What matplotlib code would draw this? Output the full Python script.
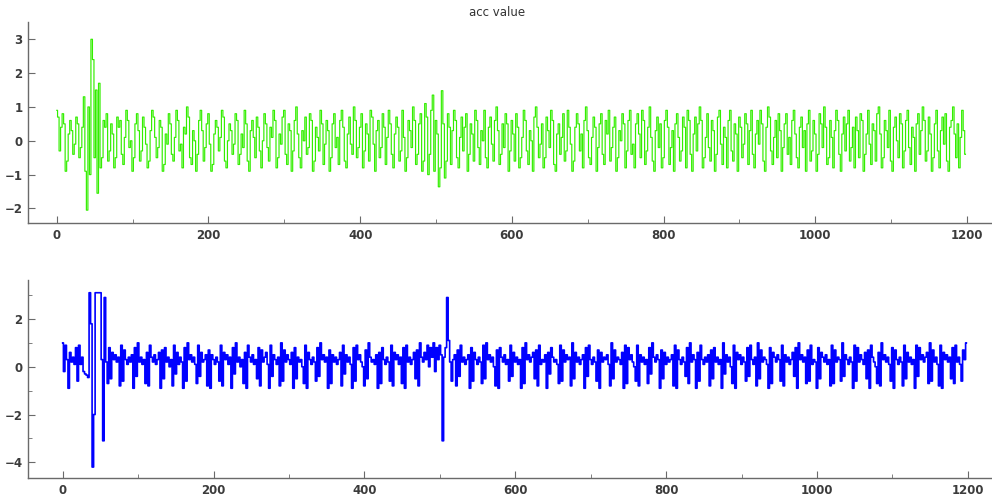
import matplotlib
matplotlib.use('Agg')
import matplotlib.pyplot as plt
from matplotlib.ticker import MultipleLocator

# acc samples, one value every 2 ticks (x = 0, 2, ..., 1198)
acc_top = [
    0.9, 0.7, -0.3, 0.4, 0.8, 0.5, -0.9, -0.6, 0.2, 0.6, 0.3, -0.4, -0.1, 0.7, 0.5, -0.5, -0.2, 0.4, 1.3, -0.9,
    -2.05, 1.0, -1.0, 3.0, 2.4, -0.5, 1.5, -1.55, 1.7, -0.8, -0.5, 0.6, 0.4, 0.8, -0.6, -0.3, 0.5, 0.2, -0.8, -0.5,
    0.7, 0.4, 0.6, -0.4, -0.7, 0.1, 0.9, 0.6, -0.2, 0.0, -0.9, -0.5, 0.5, 0.8, 0.3, -0.6, -0.3, 0.7, 0.4, -0.1,
    -0.8, -0.6, 0.3, 0.9, 0.7, 0.1, -0.5, -0.2, 0.6, 0.4, -0.9, -0.7, 0.2, -0.1, 0.8, 0.5, -0.4, -0.6, 0.1, 0.9,
    0.6, -0.3, -0.1, -0.8, 0.4, 0.2, 1.0, 0.7, -0.5, -0.7, 0.3, 0.0, -0.9, -0.4, 0.6, 0.9, 0.3, -0.6, -0.2, 0.5,
    0.8, -0.1, -0.9, -0.7, 0.2, 0.6, 0.4, -0.3, 0.1, 0.9, 0.7, -0.6, -0.8, 0.0, 0.5, 0.3, -0.4, -0.1, 0.8, 0.6,
    -0.7, -0.4, 0.2, -0.2, 0.9, 0.5, -0.6, -0.9, 0.3, 0.6, 0.1, -0.5, 0.7, 0.4, -0.3, -0.8, 0.0, 0.8, 0.5, -0.2,
    -0.6, 0.4, 0.1, 0.9, 0.6, -0.8, -0.5, 0.2, -0.1, 0.7, 0.9, -0.4, -0.7, 0.5, 0.3, -0.9, -0.3, 0.6, 1.0, 0.2,
    -0.5, -0.8, 0.3, 0.0, 0.7, -0.4, -0.2, 0.8, 0.6, -0.9, -0.6, 0.4, 0.1, -0.3, 0.9, 0.5, -0.7, -0.1, 0.6, 0.3,
    -0.9, -0.5, 0.5, 0.8, -0.2, 0.1, -0.7, 0.6, 0.9, 0.4, -0.6, -0.8, 0.2, 0.7, -0.1, -0.4, 1.0, 0.6, -0.5, -0.2,
    0.4, 0.8, -0.8, -0.3, 0.5, 0.2, -0.6, 0.9, 0.7, -0.1, -0.9, 0.3, 0.6, -0.5, -0.2, 0.8, 0.4, -0.7, 0.1, 0.9,
    0.5, -0.4, -0.8, 0.2, 0.7, 0.4, -0.6, -0.3, 0.9, 0.1, -0.9, -0.5, 0.6, 0.3, -0.2, 1.0, 0.6, -0.7, -0.4, 0.5,
    0.8, -0.9, -0.6, 1.1, 0.7, -1.0, -0.4, 0.9, 1.35, -0.9, 0.6, 0.2, -1.36, -0.8, 1.48, 0.5, -1.1, -0.6, 0.8, 0.4,
    -0.7, 0.3, 0.9, 0.6, -0.5, -0.8, 0.1, 0.7, -0.3, 0.4, 0.8, -0.9, -0.4, 0.5, 0.2, -0.6, 0.9, 0.6, -0.2, -0.7,
    0.3, 0.0, 0.9, -0.5, -0.8, 0.4, 0.7, -0.1, -0.6, 0.6, 1.0, 0.3, -0.7, -0.4, 0.5, -0.2, 0.8, 0.5, -0.9, -0.3,
    0.6, 0.2, -0.6, 0.8, 0.4, -0.8, -0.5, 0.1, 0.9, 0.6, -0.3, -0.7, 0.3, 0.0, -0.9, 0.7, 1.0, 0.4, -0.5, -0.1,
    0.5, -0.8, -0.5, 0.7, 0.3, -0.2, 0.9, 0.6, -0.7, -0.9, 0.2, 0.5, -0.4, 0.1, 0.8, -0.6, -0.3, 0.9, 0.4, -0.1,
    -0.9, -0.6, 0.4, 0.8, 0.5, -0.3, 0.2, -0.8, 0.6, 1.0, 0.3, -0.5, -0.7, 0.1, 0.7, 0.4, -0.9, -0.2, 0.5, 0.8,
    -0.4, -0.7, 0.6, 0.2, 0.9, -0.6, -0.2, 0.4, 0.7, -0.9, -0.5, 0.3, 0.0, 0.8, 0.5, -0.8, -0.3, 0.6, 0.9, -0.4,
    -0.1, -0.8, 0.5, 0.8, 0.2, -0.5, 0.9, 0.6, -0.7, -0.3, 0.4, 1.0, 0.1, -0.6, -0.9, 0.3, 0.7, -0.2, 0.5, -0.8,
    -0.5, 0.6, 0.9, 0.4, -0.7, -0.2, 0.3, -0.9, 0.5, 0.8, 0.1, -0.6, -0.3, 0.7, 0.4, -0.8, 0.9, 0.6, -0.4, -0.9,
    0.2, 0.7, -0.3, 0.5, 1.0, 0.6, -0.8, -0.5, 0.1, 0.8, -0.2, -0.6, 0.6, 0.3, -0.9, -0.4, 0.7, 0.9, -0.1, -0.7,
    0.4, 0.1, -0.8, 0.6, 0.9, -0.3, -0.6, 0.5, 0.2, -0.9, 0.7, 0.4, -0.5, -0.1, 0.8, 0.5, -0.7, 0.3, 0.9, -0.4,
    -0.8, 0.2, 0.6, -0.1, 0.9, 0.5, -0.6, -0.9, 0.4, 1.0, 0.7, -0.3, -0.7, 0.1, 0.6, -0.5, 0.8, 0.3, -0.9, -0.2,
    0.5, 0.8, -0.4, 0.1, -0.7, 0.6, 0.9, 0.2, -0.5, -0.8, 0.4, 0.7, -0.2, 0.3, -0.9, 0.5, 0.9, -0.6, -0.3, 0.6,
    0.2, -0.9, -0.4, 0.8, 0.5, -0.2, 1.0, 0.4, -0.7, -0.5, 0.6, 0.1, -0.8, 0.3, 0.9, 0.6, -0.4, -0.9, 0.2, 0.7,
    -0.3, 0.5, 0.9, -0.6, -0.2, 0.4, -0.8, 0.7, 0.3, -0.5, 0.8, 0.6, -0.9, -0.4, 0.2, 0.9, -0.1, -0.7, 0.5, 0.3,
    -0.6, 0.8, 1.0, 0.2, -0.8, -0.5, 0.6, 0.3, -0.2, 0.9, -0.6, -0.9, 0.4, 0.7, 0.0, -0.5, 0.8, 0.5, -0.8, -0.3,
    0.6, 0.9, -0.2, -0.7, 0.4, 0.1, -0.9, 0.5, 0.8, -0.4, 0.3, 1.0, 0.6, -0.6, -0.3, 0.7, 0.2, -0.9, -0.5, 0.5,
    0.9, -0.3, -0.8, 0.3, 0.7, -0.1, 0.8, -0.6, -0.9, 0.4, 0.6, 1.0, 0.2, -0.5, 0.5, -0.8, 0.1, 0.9, 0.3, -0.4,
]

acc_bottom = [
    1.0, -0.2, 0.9, 0.3, -0.9, 0.6, 0.2, 0.4, 0.1, 0.8, -0.6, 0.9, 0.1, 0.4, -0.2, -0.3, -0.35, -0.45, 3.1, 1.8,
    -4.2, -2.0, 3.1, 3.1, 3.1, 3.1, 0.3, -3.1, 2.9, 0.2, -0.7, 0.8, -0.5, 0.6, 0.3, 0.5, 0.2, 0.4, -0.8, 0.9,
    -0.6, 0.7, 0.3, 0.1, 0.4, 0.2, 0.5, -0.9, 0.8, -0.4, 1.0, 0.2, 0.4, 0.1, 0.3, -0.7, 0.6, -0.8, 0.9, 0.4,
    0.2, 0.5, 0.1, 0.3, 0.6, -0.9, 0.7, -0.5, 0.8, 0.2, 0.4, 0.0, 0.3, -0.8, 0.9, -0.3, 0.6, 0.1, 0.4, 0.2,
    -0.9, 0.8, -0.6, 1.0, 0.3, 0.5, 0.2, 0.4, 0.1, -0.7, 0.9, -0.4, 0.6, 0.2, 0.3, 0.5, -0.8, 0.7, -0.9, 0.5,
    0.3, 0.1, 0.4, 0.2, -0.6, 0.9, -0.8, 0.6, 0.3, 0.5, 0.1, 0.4, -0.9, 0.8, -0.3, 1.0, 0.2, 0.4, 0.0, 0.3,
    -0.7, 0.6, -0.9, 0.9, 0.4, 0.2, 0.5, 0.1, 0.3, -0.5, 0.8, -0.8, 0.7, 0.2, 0.4, 0.6, 0.1, -0.9, 0.9, -0.4,
    0.5, 0.3, 0.1, 0.4, -0.8, 1.0, -0.6, 0.7, 0.2, 0.5, 0.3, 0.1, 0.6, -0.9, 0.8, -0.5, 0.4, 0.2, 0.3, 0.0,
    -0.7, 0.9, -0.9, 0.6, 0.3, 0.1, 0.4, 0.2, -0.6, 0.8, -0.4, 1.0, 0.3, 0.5, 0.2, 0.4, -0.9, 0.7, -0.7, 0.5,
    0.2, 0.4, 0.1, 0.3, 0.6, -0.8, 0.9, -0.3, 0.5, 0.2, 0.4, 0.1, -0.9, 0.8, -0.6, 0.9, 0.3, 0.5, 0.2, 0.0,
    -0.8, 0.7, -0.5, 1.0, 0.4, 0.2, 0.3, 0.1, 0.5, -0.9, 0.6, -0.7, 0.8, 0.3, 0.1, 0.4, 0.2, -0.6, 0.9, -0.8,
    0.6, 0.3, 0.5, 0.1, 0.4, -0.7, 0.8, -0.9, 0.9, 0.2, 0.4, 0.1, 0.3, 0.6, -0.5, 0.7, -0.8, 1.0, 0.4, 0.2,
    0.6, 0.3, 0.9, 0.0, 0.8, 0.4, 1.0, -0.2, 0.8, 0.3, 0.9, 0.5, -3.1, 0.4, 0.8, 2.9, 1.1, 0.2, -0.6, 0.3,
    0.5, -0.8, 0.7, -0.4, 0.9, 0.2, 0.4, 0.1, 0.3, 0.5, -0.9, 0.8, -0.6, 0.6, 0.3, 0.1, 0.4, 0.2, -0.7, 0.9,
    -0.5, 1.0, 0.3, 0.5, 0.2, 0.4, 0.0, -0.8, 0.7, -0.9, 0.8, 0.4, 0.2, 0.5, 0.1, 0.3, -0.6, 0.9, -0.4, 0.6,
    0.2, 0.4, 0.1, 0.3, -0.9, 0.8, -0.7, 1.0, 0.3, 0.5, 0.2, 0.4, 0.6, -0.5, 0.7, -0.8, 0.9, 0.1, 0.3, 0.2,
    0.5, -0.9, 0.6, -0.3, 0.8, 0.4, 0.2, 0.3, 0.1, -0.7, 0.9, -0.6, 0.7, 0.2, 0.5, 0.3, 0.4, -0.8, 1.0, -0.5,
    0.6, 0.2, 0.4, 0.1, 0.3, 0.5, -0.9, 0.8, -0.4, 0.9, 0.3, 0.1, 0.4, 0.2, -0.6, 0.7, -0.9, 0.6, 0.2, 0.4,
    0.3, 0.5, 0.1, -0.8, 1.0, -0.5, 0.7, 0.2, 0.4, 0.3, 0.1, 0.6, -0.9, 0.9, -0.7, 0.8, 0.3, 0.5, 0.2, 0.0,
    -0.6, 0.9, -0.8, 0.5, 0.2, 0.4, 0.1, 0.3, -0.7, 0.8, -0.3, 1.0, 0.4, 0.2, 0.5, 0.3, -0.9, 0.7, -0.5, 0.6,
    0.1, 0.4, 0.2, 0.3, 0.5, -0.8, 0.9, -0.9, 0.7, 0.3, 0.1, 0.4, 0.2, -0.4, 0.8, -0.7, 1.0, 0.2, 0.5, 0.3,
    -0.9, 0.6, -0.6, 0.9, 0.3, 0.1, 0.4, 0.2, 0.5, -0.8, 0.7, -0.5, 0.8, 0.2, 0.4, 0.1, 0.3, -0.9, 1.0, -0.3,
    0.5, 0.2, 0.4, 0.0, -0.7, 0.9, -0.9, 0.6, 0.3, 0.5, 0.1, 0.4, 0.2, -0.6, 0.8, -0.4, 0.9, 0.3, 0.1, 0.4,
    -0.8, 1.0, -0.5, 0.7, 0.2, 0.4, 0.3, 0.1, -0.9, 0.8, -0.7, 0.6, 0.4, 0.2, 0.5, 0.3, -0.6, 0.9, -0.8, 0.5,
    0.2, 0.4, 0.1, 0.3, 0.6, -0.4, 0.8, -0.9, 1.0, 0.3, 0.5, 0.2, 0.4, -0.7, 0.7, -0.6, 0.9, 0.1, 0.3, 0.2,
    -0.9, 0.8, -0.5, 0.6, 0.4, 0.2, 0.5, 0.1, 0.3, -0.8, 0.9, -0.7, 0.7, 0.2, 0.4, 0.3, -0.6, 1.0, -0.4, 0.5,
    0.3, 0.1, 0.4, 0.2, -0.9, 0.9, -0.6, 0.8, 0.2, 0.5, 0.3, 0.1, 0.6, -0.5, 0.7, -0.9, 0.9, 0.4, 0.2, 0.0,
    -0.7, 0.6, -0.8, 1.0, 0.3, 0.5, 0.2, 0.4, 0.1, -0.6, 0.8, -0.9, 0.7, 0.3, 0.1, 0.4, 0.2, -0.8, 0.9, -0.5,
    0.6, 0.2, 0.4, 0.1, 0.3, -0.9, 0.9, -0.4, 0.8, 0.3, 0.5, 0.2, 0.4, 0.6, -0.7, 1.0, -0.6, 0.7, 0.2, 0.4,
    0.1, -0.8, 0.9, -0.9, 0.6, 0.3, 0.5, 0.2, 0.4, -0.5, 0.8, -0.7, 0.9, 0.2, 0.4, 0.1, -0.6, 0.7, 0.3, 1.0,
]

sample_x = list(range(0, 2 * len(acc_top), 2))

x_ticks = [0, 200, 400, 600, 800, 1000, 1200]
top_y_ticks = [-2, -1, 0, 1, 2, 3]
bottom_y_ticks = [-4, -2, 0, 2]

axis_col = '#6a6a6a'
label_col = '#3c3c3c'


def style_axis(ax):
    for side in ('top', 'right'):
        ax.spines[side].set_visible(False)
    for side in ('left', 'bottom'):
        ax.spines[side].set_color(axis_col)
        ax.spines[side].set_linewidth(1.0)
    ax.tick_params(which='major', direction='in', length=5, width=0.8,
                   colors=axis_col, labelcolor=label_col, labelsize=8.5, pad=4)
    ax.tick_params(which='minor', direction='in', length=3, width=0.6,
                   colors=axis_col)
    for lbl in ax.get_xticklabels() + ax.get_yticklabels():
        lbl.set_fontweight('semibold')


fig = plt.figure(figsize=(9.92, 4.98), dpi=100)

# steps give the dense vertical strokes of the original trace
ax1 = fig.add_axes([0.0282, 0.5522, 0.9718, 0.4036])
ax1.plot(sample_x, acc_top, color='#33ee00', lw=0.85, drawstyle='steps-mid')
ax1.set_xlim(-38, 1233)
ax1.set_ylim(-2.43, 3.51)
ax1.set_xticks(x_ticks)
ax1.set_yticks(top_y_ticks)
ax1.xaxis.set_minor_locator(MultipleLocator(100))
style_axis(ax1)

ax2 = fig.add_axes([0.0282, 0.0396, 0.9718, 0.398])
ax2.plot(sample_x, acc_bottom, color='#0000ff', lw=1.2, drawstyle='steps-mid')
ax2.set_xlim(-46, 1232)
ax2.set_ylim(-4.67, 3.63)
ax2.set_xticks(x_ticks)
ax2.set_yticks(bottom_y_ticks)
ax2.xaxis.set_minor_locator(MultipleLocator(100))
ax2.yaxis.set_minor_locator(MultipleLocator(1))
style_axis(ax2)

fig.text(0.501, 1 - 12 / 498, 'acc value', ha='center', va='center',
         fontsize=8.5, color='#333333')

fig.savefig('out.png', dpi=100)
plt.close(fig)
